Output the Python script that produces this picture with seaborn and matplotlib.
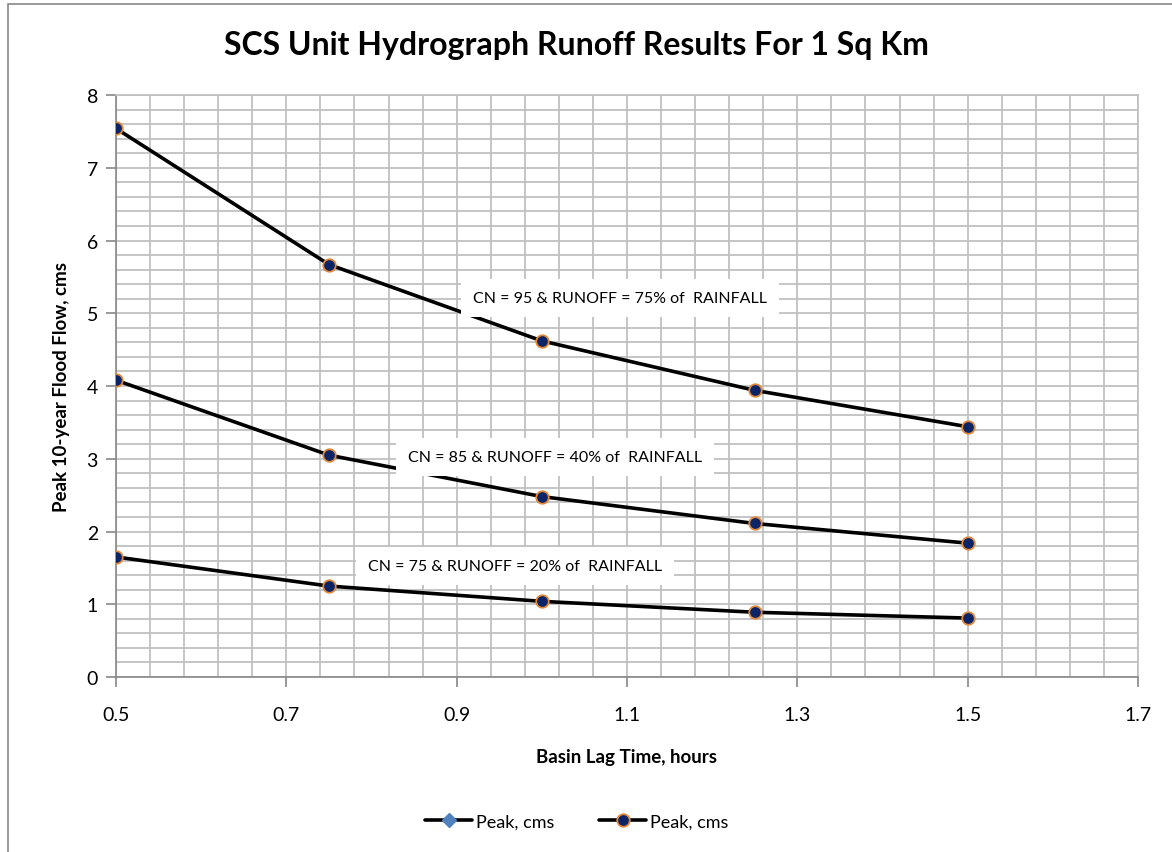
import numpy as np
import pandas as pd
import matplotlib
matplotlib.use("Agg")
import matplotlib.pyplot as plt
from matplotlib.lines import Line2D
from matplotlib.ticker import MultipleLocator, FixedLocator, FormatStrFormatter
import seaborn as sns

sns.set_theme(style="white")
plt.rcParams["font.family"] = ["Lato", "DejaVu Sans"]
plt.rcParams["text.color"] = "black"
plt.rcParams["axes.labelcolor"] = "black"
plt.rcParams["xtick.labelcolor"] = "black"
plt.rcParams["ytick.labelcolor"] = "black"

lag_hours = [0.5, 0.75, 1.0, 1.25, 1.5]
peak_cn95 = [7.54, 5.67, 4.62, 3.94, 3.44]
peak_cn85 = [4.08, 3.05, 2.48, 2.11, 1.84]
peak_cn75 = [1.65, 1.25, 1.04, 0.89, 0.81]
labels = [
    "CN = 95 & RUNOFF = 75% of  RAINFALL",
    "CN = 85 & RUNOFF = 40% of  RAINFALL",
    "CN = 75 & RUNOFF = 20% of  RAINFALL",
]
label_x = [1.092, 1.015, 0.968]
label_y = [5.21, 3.02, 1.53]
x_ticks = [0.5, 0.7, 0.9, 1.1, 1.3, 1.5, 1.7]

df = pd.DataFrame({
    "lag": lag_hours * 3,
    "peak": peak_cn95 + peak_cn85 + peak_cn75,
    "curve": ["cn95"] * 5 + ["cn85"] * 5 + ["cn75"] * 5,
})

fig = plt.figure(figsize=(11.72, 8.53), dpi=100)
ax = fig.add_axes([116 / 1172, 1 - 678 / 853, (1138 - 116) / 1172, (678 - 96) / 853])

# outer chart frame
fig.patches.append(plt.Rectangle((8 / 1172, -0.1), 1.2, 1 - 5 / 853 + 0.1, transform=fig.transFigure,
                                 fill=False, edgecolor="#888888", lw=1.2, zorder=0))

sns.lineplot(data=df, x="lag", y="peak", units="curve", estimator=None, color="black",
             lw=2.6, marker="o", markersize=9, markerfacecolor="#0b2466",
             markeredgecolor="#e0883a", markeredgewidth=1.3, ax=ax, zorder=4)

for txt, tx, ty in zip(labels, label_x, label_y):
    ax.text(tx, ty, txt, ha="center", va="center", fontsize=11.5, zorder=5,
            bbox=dict(boxstyle="square,pad=0.75", facecolor="white", edgecolor="none"))

ax.set_xlim(0.5, 1.7)
ax.set_ylim(0, 8)
ax.xaxis.set_major_locator(FixedLocator(x_ticks))
ax.xaxis.set_minor_locator(FixedLocator(np.arange(0.5, 1.7001, 0.04)))
ax.yaxis.set_major_locator(MultipleLocator(1))
ax.yaxis.set_minor_locator(MultipleLocator(0.2))
ax.xaxis.set_major_formatter(FormatStrFormatter("%.1f"))
ax.grid(True, which="both", color="#c0c0c0", lw=1.3)
ax.set_axisbelow(True)
for s in ["top", "right"]:
    ax.spines[s].set_color("#c0c0c0")
for s in ["left", "bottom"]:
    ax.spines[s].set_color("#888888")
    ax.spines[s].set_linewidth(1.2)
ax.tick_params(axis="both", which="major", direction="out", length=7, width=1.2,
               color="#888888", labelsize=14, pad=6)
ax.tick_params(axis="x", which="major", pad=14)
ax.tick_params(which="minor", length=0)
ax.tick_params(left=True, bottom=True)

ax.set_xlabel("Basin Lag Time, hours", fontsize=13.5, fontweight="bold", labelpad=18)
ax.set_ylabel("Peak 10-year Flood Flow, cms", fontsize=13.5, fontweight="bold", labelpad=12)
fig.text(0.492, 0.947, "SCS Unit Hydrograph Runoff Results For 1 Sq Km", ha="center", va="center",
         fontsize=23, fontweight="bold")

handles = [
    Line2D([], [], color="black", lw=2.6, marker="D", markersize=7,
           markerfacecolor="#4f81bd", markeredgecolor="#4f81bd"),
    Line2D([], [], color="black", lw=2.6, marker="o", markersize=9,
           markerfacecolor="#0b2466", markeredgecolor="#e0883a", markeredgewidth=1.3),
]
fig.legend(handles, ["Peak, cms", "Peak, cms"], loc="center", bbox_to_anchor=(0.492, 0.036),
           ncol=2, frameon=False, fontsize=13, handlelength=2.6, handletextpad=0.2, columnspacing=2.5)

fig.savefig("out.png", dpi=100)
